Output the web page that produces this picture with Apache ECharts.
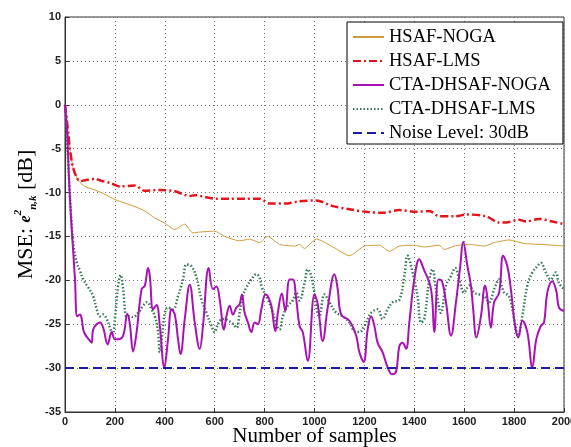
<!DOCTYPE html>
<html>
<head>
<meta charset="utf-8">
<script src="https://cdn.jsdelivr.net/npm/echarts@6/dist/echarts.min.js"></script>
<style>html,body{margin:0;padding:0;background:#fff;}#c{width:571px;height:447px;}</style>
</head>
<body>
<div id="c"></div>
<script>
// HSAF-NOGA
const hnX = [0,7,13,20,31,40,55,80,120,160,200,240,280,320,360,400,440,468,480,512,540,600,640,700,740,780,812,860,920,940,960,980,1008,1080,1140,1200,1260,1300,1340,1400,1440,1500,1520,1560,1620,1680,1720,1780,1840,1900,1960,2000];
const hnY = [0,-1.7,-3.2,-5.1,-7.0,-7.8,-8.7,-9.3,-9.7,-10.2,-10.8,-11.2,-11.6,-12.1,-12.9,-13.5,-14.2,-13.75,-13.6,-14.6,-14.5,-14.4,-15.0,-15.5,-15.3,-15.7,-15.0,-15.9,-16.1,-15.9,-16.4,-15.9,-15.3,-16.3,-17.2,-16.1,-16.0,-16.7,-16.1,-16.0,-16.2,-16.0,-16.5,-16.1,-15.9,-16.1,-15.7,-15.4,-15.8,-15.9,-16.0,-16.1];
// HSAF-LMS
const hlX = [0,7,13,20,31,47,60,80,120,150,180,220,280,320,380,440,500,520,600,660,720,780,820,880,940,1007,1073,1140,1207,1273,1340,1407,1460,1500,1567,1607,1687,1740,1767,1820,1847,1900,1953,2000];
const hlY = [0,-1.7,-3.2,-5.1,-7.0,-8.3,-8.7,-8.6,-8.45,-8.7,-8.9,-9.3,-9.2,-9.8,-9.7,-9.85,-10.4,-10.3,-10.7,-10.7,-10.7,-10.7,-11.25,-11.25,-11.0,-10.9,-11.55,-11.9,-12.2,-12.3,-12.0,-12.2,-12.1,-12.7,-12.7,-12.5,-12.7,-13.4,-13.4,-13.1,-13.3,-13.0,-13.3,-13.6];
// CTA-DHSAF-NOGA
const cnX = [0,8,20,40,49,60,67,76,100,107,113,140,153,171,187,200,213,233,250,260,273,287,307,320,333,340,353,367,380,398,413,427,440,453,463,480,500,520,540,553,576,593,607,620,637,647,660,673,687,700,709,720,733,747,760,773,787,803,813,827,843,853,869,883,900,913,927,940,953,973,1000,1013,1033,1053,1080,1093,1107,1140,1167,1180,1197,1213,1227,1240,1253,1273,1293,1311,1327,1340,1353,1367,1380,1400,1420,1436,1467,1480,1497,1511,1527,1547,1567,1584,1596,1613,1627,1636,1649,1667,1684,1693,1707,1720,1740,1756,1773,1787,1804,1817,1833,1853,1873,1889,1907,1920,1933,1953,1969,1980,2000];
const cnY = [0,-3,-10.8,-19.9,-24.1,-23.9,-24.4,-25.9,-26.9,-27.1,-25.6,-24.8,-25.4,-27.3,-25.9,-26.7,-26.7,-26.3,-23.8,-25.0,-28.1,-25.9,-21.0,-20.6,-18.6,-19.5,-23.3,-22.8,-25.2,-29.9,-26.7,-23.3,-23.9,-26.7,-28.4,-24.4,-20.5,-24.8,-27.8,-25.2,-18.6,-21.0,-20.7,-22.2,-25.6,-24.1,-22.9,-23.9,-23.1,-22.7,-21.6,-23.7,-24.8,-25.9,-24.8,-25.0,-23.3,-21.6,-21.8,-22.9,-25.8,-23.7,-21.5,-23.5,-19.9,-19.9,-22.2,-25.2,-25.9,-29.2,-21.6,-22.7,-26.9,-23.1,-19.3,-21.0,-23.9,-24.6,-26.3,-28.2,-29.3,-25.6,-24.1,-25.2,-27.1,-28.2,-29.9,-30.7,-30.4,-27.5,-27.1,-27.8,-24.8,-19.9,-17.6,-18.6,-21.0,-25.9,-19.9,-20.1,-22.5,-26.3,-22.5,-18.4,-15.6,-18.4,-20.6,-23.3,-26.5,-24.1,-20.6,-22.0,-25.4,-22.5,-21.4,-17.2,-18.4,-21.0,-25.2,-26.5,-24.6,-25.9,-29.9,-26.7,-25.2,-24.8,-21.4,-20.1,-21.2,-23.1,-23.5];
// CTA-DHSAF-LMS
const clX = [0,10,20,33,47,60,73,93,113,127,140,153,167,180,191,200,213,223,233,247,260,273,293,313,329,347,360,373,380,391,400,413,433,453,473,487,507,527,547,567,587,600,613,633,667,687,700,713,727,747,767,780,789,813,829,847,860,873,893,913,927,940,960,973,987,1020,1040,1060,1087,1113,1140,1160,1180,1200,1227,1253,1273,1293,1313,1340,1360,1373,1393,1413,1427,1440,1460,1473,1487,1507,1527,1547,1564,1580,1600,1620,1640,1660,1680,1700,1720,1740,1760,1780,1800,1816,1833,1853,1873,1893,1907,1927,1947,1967,1980,2000];
const clY = [0,-5,-10.5,-15.7,-18.0,-18.9,-19.9,-20.8,-21.8,-23.3,-24.1,-23.9,-24.4,-25.4,-26.1,-24.4,-20.6,-19.4,-21.0,-24.1,-24.1,-24.2,-23.7,-22.9,-22.5,-23.3,-24.1,-25.9,-28.2,-25.9,-23.7,-23.1,-23.3,-21.8,-19.9,-18.2,-18.4,-19.7,-22.2,-23.7,-25.2,-25.9,-25.0,-24.4,-24.8,-25.4,-23.7,-21.8,-20.8,-19.9,-19.3,-19.7,-20.8,-22.2,-23.3,-25.0,-25.6,-24.1,-22.9,-22.3,-21.4,-22.3,-20.3,-18.75,-19.5,-24.1,-21.6,-22.5,-23.7,-24.1,-24.8,-25.8,-25.9,-25.2,-23.7,-23.3,-24.4,-23.3,-22.5,-22.2,-19.5,-17.2,-19.1,-21.8,-24.8,-24.4,-19.9,-18.75,-21.0,-23.7,-20.6,-19.5,-18.6,-19.9,-21.4,-20.6,-21.4,-21.6,-21.8,-22.5,-21.0,-19.9,-21.4,-21.8,-24.4,-26.3,-24.1,-20.6,-19.1,-18.4,-18.0,-19.1,-19.9,-19.1,-20.3,-21.0];
// Noise level
const noiseX = [0,2000];
const noiseY = [-30,-30];

const names = ['HSAF-NOGA','HSAF-LMS','CTA-DHSAF-NOGA','CTA-DHSAF-LMS','Noise Level: 30dB'];
const zip = (xs, ys) => xs.map((x, i) => [x, ys[i]]);

const chart = echarts.init(document.getElementById('c'), null, {renderer: 'canvas'});
const labelStyle = {fontFamily: 'Liberation Sans', fontWeight: 'bold', fontSize: 11, color: '#222', formatter: v => String(v)};
chart.setOption({
  animation: false,
  backgroundColor: '#fff',
  grid: {left: 65, right: 7, top: 17, bottom: 35, containLabel: false, outerBoundsMode: 'none',
         show: true, borderColor: '#333', borderWidth: 1, backgroundColor: 'transparent'},
  legend: {
    data: names, orient: 'vertical', left: 347, top: 22, padding: [5, 12, 1, 5], itemGap: 4,
    itemWidth: 31, itemHeight: 20, backgroundColor: '#fff', borderColor: '#000', borderWidth: 1,
    itemStyle: {opacity: 0},
    textStyle: {fontFamily: 'Liberation Serif', fontSize: 18.5, color: '#000', lineHeight: 20}
  },
  xAxis: {
    type: 'value', min: 0, max: 2000, interval: 200,
    axisLine: {show: true, onZero: false, lineStyle: {color: '#333'}},
    axisTick: {show: true, inside: true, length: 4, lineStyle: {color: '#333'}},
    axisLabel: Object.assign({margin: 4}, labelStyle),
    splitLine: {show: true, lineStyle: {color: '#777', type: [1, 3], width: 1}},
    name: 'Number of samples', nameLocation: 'middle', nameGap: 14, nameMoveOverlap: false,
    nameTextStyle: {fontFamily: 'Liberation Serif', fontSize: 21, color: '#000'}
  },
  yAxis: {
    type: 'value', min: -35, max: 10, interval: 5,
    axisLine: {show: true, onZero: false, lineStyle: {color: '#333'}},
    axisTick: {show: true, inside: true, length: 4, lineStyle: {color: '#333'}},
    axisLabel: Object.assign({margin: 4}, labelStyle),
    splitLine: {show: true, lineStyle: {color: '#777', type: [1, 3], width: 1}},
    name: '{a|MSE: }{e|e}{sup|2}{sub|n,k}{a| [dB]}', nameLocation: 'middle', nameRotate: 90, nameGap: 26, nameMoveOverlap: false,
    nameTextStyle: {
      fontFamily: 'Liberation Serif', fontSize: 22, color: '#000',
      rich: {
        a: {fontFamily: 'Liberation Serif', fontSize: 22, color: '#000', lineHeight: 26},
        e: {fontFamily: 'Liberation Serif', fontSize: 16, fontStyle: 'italic', fontWeight: 'bold', color: '#000', lineHeight: 26, verticalAlign: 'bottom', padding: [0, 0, 5, 0]},
        sup: {fontFamily: 'Liberation Serif', fontSize: 11, fontStyle: 'italic', fontWeight: 'bold', color: '#000', verticalAlign: 'top', lineHeight: 26},
        sub: {fontFamily: 'Liberation Serif', fontSize: 11, fontStyle: 'italic', fontWeight: 'bold', color: '#000', verticalAlign: 'bottom', lineHeight: 26}
      }
    }
  },
  series: [
    {name: names[0], type: 'line', data: zip(hnX, hnY), symbol: 'none', smooth: 0.2,
     lineStyle: {color: '#d09a3a', width: 1}, itemStyle: {color: '#d09a3a'}, z: 2},
    {name: names[1], type: 'line', data: zip(hlX, hlY), symbol: 'none', smooth: 0.3,
     lineStyle: {color: '#e3141c', width: 2.5, type: [8, 3, 2, 3]}, itemStyle: {color: '#e3141c'}, z: 3},
    {name: names[3], type: 'line', data: zip(clX, clY), symbol: 'none', smooth: 0.4,
     lineStyle: {color: '#367a56', width: 2.5, type: [1.5, 2]}, itemStyle: {color: '#367a56'}, z: 4},
    {name: names[2], type: 'line', data: zip(cnX, cnY), symbol: 'none', smooth: 0.4,
     lineStyle: {color: '#a812b4', width: 2}, itemStyle: {color: '#a812b4'}, z: 5},
    {name: names[4], type: 'line', data: zip(noiseX, noiseY), symbol: 'none',
     lineStyle: {color: '#1c1ca0', width: 2, type: [9, 5]}, itemStyle: {color: '#1c1ca0'}, z: 6}
  ]
});
</script>
</body>
</html>
